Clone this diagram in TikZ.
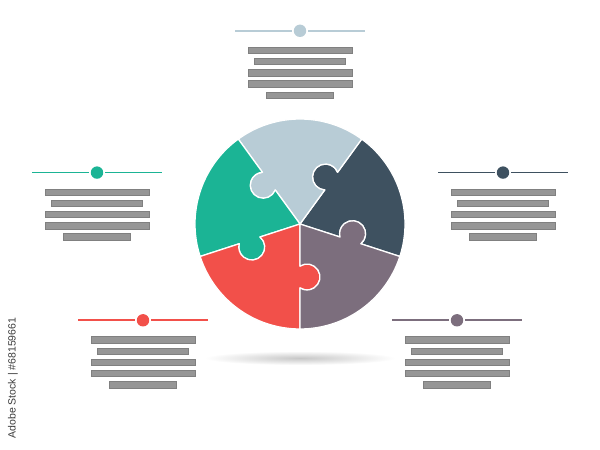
\documentclass[tikz,border=0pt]{standalone}
\usepackage{fontspec}
\setmainfont{Liberation Sans}
\definecolor{pteal}{RGB}{27,180,149}
\definecolor{plight}{RGB}{184,204,214}
\definecolor{pdark}{RGB}{62,81,96}
\definecolor{pmauve}{RGB}{124,110,125}
\definecolor{pred}{RGB}{242,80,74}
\definecolor{barfill}{RGB}{150,150,150}
\definecolor{barline}{RGB}{128,128,128}
\tikzset{
  piece/.style={draw=white, line width=1.3pt, line join=round},
  infobar/.style={fill=barfill, draw=barline, line width=0.5pt},
}
\newcommand\infoblock[3]{%
  \begin{scope}[shift={(#1,450-#2)}]
    \draw[#3, line width=1.6pt] (-65,0) -- (65,0);
    \fill[white] (0,0) circle (8);
    \fill[#3] (0,0) circle (6.2);
    \path[infobar] (-52,-16.3) rectangle (52,-22.7);
    \path[infobar] (-45.5,-27.5) rectangle (45.5,-33.9);
    \path[infobar] (-52,-38.7) rectangle (52,-45.1);
    \path[infobar] (-52,-49.9) rectangle (52,-56.3);
    \path[infobar] (-33.5,-61.1) rectangle (33.5,-67.5);
  \end{scope}}
\begin{document}
\begin{tikzpicture}[x=1pt,y=1pt]
\useasboundingbox (0,0) rectangle (600,450);
\fill[white] (0,0) rectangle (600,450);
% shadow
\shade[inner color=black!22, outer color=white] (300,92) ellipse [x radius=95, y radius=7];
% puzzle circle
\begin{scope}[shift={(300,226)}]
\foreach \t/\c in {-18/pdark, 54/plight, 126/pteal, 198/pred, 270/pmauve}{
  \filldraw[piece, fill=\c]
    (0,0) -- (\t:42.05)
    arc[start angle=\t+212.6, end angle=\t-32.6, radius=13]
    -- (\t:105)
    arc[start angle=\t, end angle=\t+72, radius=105]
    -- ({\t+72}:63.95)
    arc[start angle=\t+39.4, end angle=\t+284.6, radius=13]
    -- cycle;
}
\end{scope}
% info blocks
\infoblock{300}{30.8}{plight}
\infoblock{97}{172.6}{pteal}
\infoblock{503}{172.6}{pdark}
\infoblock{143}{320.3}{pred}
\infoblock{457}{320.3}{pmauve}
% watermark text
\node[rotate=90, font=\fontsize{10.5}{12}\selectfont, text={rgb,255:red,60;green,60;blue,60}, inner sep=0pt] (wm) at (13,72) {Adobe Stock | \#68159661};
\end{tikzpicture}
\end{document}
